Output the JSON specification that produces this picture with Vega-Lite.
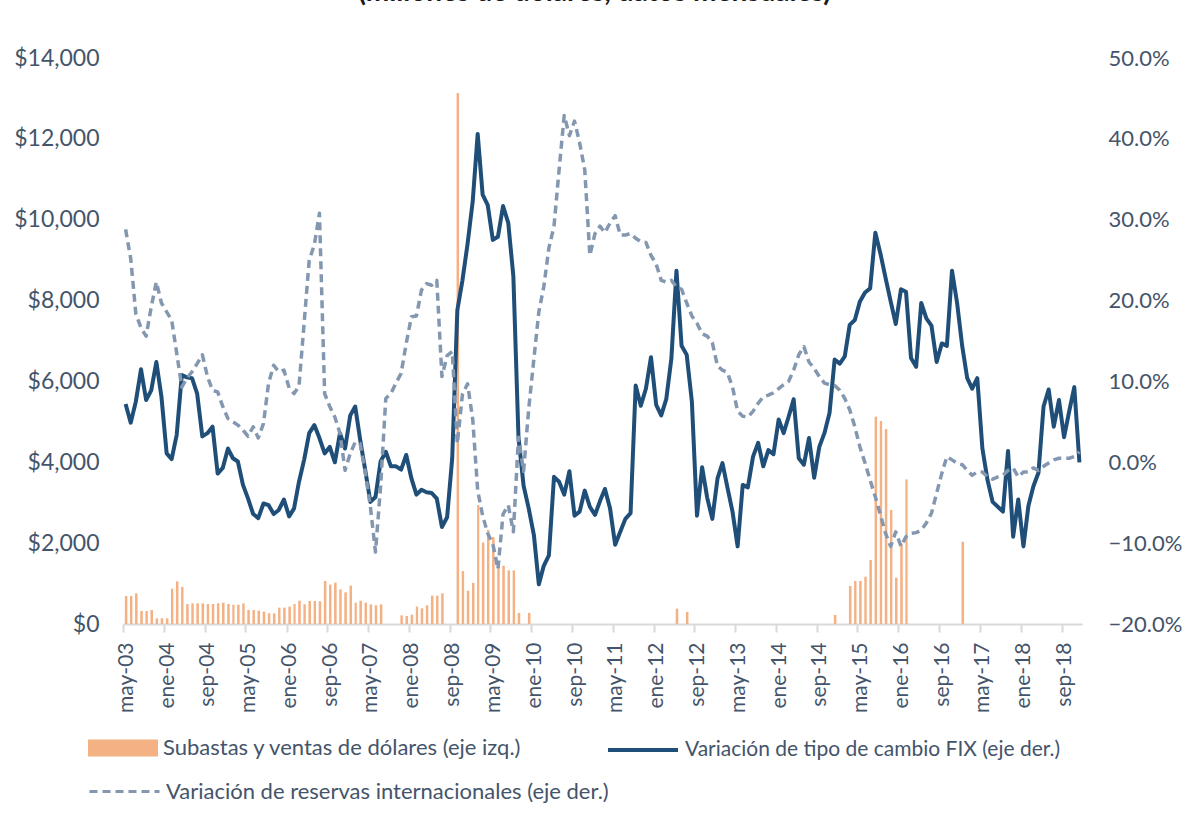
{
  "$schema": "https://vega.github.io/schema/vega-lite/v6.json",
  "autosize": "none",
  "width": 959,
  "height": 566,
  "padding": {"left": 123, "top": 58, "right": 104, "bottom": 195},
  "background": "white",
  "title": {"text": "(millones de dólares, datos mensuales)", "fontSize": 28, "fontWeight": "bold", "font": "Lato", "color": "#1a1a1a", "anchor": "middle", "baseline": "bottom", "offset": 12, "frame": "group", "dx": -8},
  "config": {
    "font": "Lato",
    "view": {"stroke": null},
    "axis": {"labelColor": "#44546A", "labelFont": "Lato", "grid": false, "title": null}
  },
  "data": {"values": [
{"d":"2003-05-01","b":692,"fx":0.072,"r":0.288},
{"d":"2003-06-01","b":692,"fx":0.049,"r":0.252},
{"d":"2003-07-01","b":759,"fx":0.075,"r":0.184},
{"d":"2003-08-01","b":322,"fx":0.115,"r":0.166},
{"d":"2003-09-01","b":322,"fx":0.077,"r":0.156},
{"d":"2003-10-01","b":346,"fx":0.089,"r":0.192},
{"d":"2003-11-01","b":140,"fx":0.124,"r":0.223},
{"d":"2003-12-01","b":140,"fx":0.081,"r":0.197},
{"d":"2004-01-01","b":140,"fx":0.011,"r":0.186},
{"d":"2004-02-01","b":874,"fx":0.004,"r":0.176},
{"d":"2004-03-01","b":1055,"fx":0.034,"r":0.135},
{"d":"2004-04-01","b":915,"fx":0.108,"r":0.093},
{"d":"2004-05-01","b":495,"fx":0.105,"r":0.104},
{"d":"2004-06-01","b":511,"fx":0.104,"r":0.112},
{"d":"2004-07-01","b":511,"fx":0.085,"r":0.122},
{"d":"2004-08-01","b":511,"fx":0.032,"r":0.133},
{"d":"2004-09-01","b":495,"fx":0.036,"r":0.106},
{"d":"2004-10-01","b":495,"fx":0.044,"r":0.089},
{"d":"2004-11-01","b":511,"fx":-0.014,"r":0.087},
{"d":"2004-12-01","b":528,"fx":-0.007,"r":0.069},
{"d":"2005-01-01","b":495,"fx":0.017,"r":0.054},
{"d":"2005-02-01","b":478,"fx":0.005,"r":0.050},
{"d":"2005-03-01","b":478,"fx":0.001,"r":0.046},
{"d":"2005-04-01","b":511,"fx":-0.028,"r":0.040},
{"d":"2005-05-01","b":346,"fx":-0.045,"r":0.032},
{"d":"2005-06-01","b":346,"fx":-0.064,"r":0.044},
{"d":"2005-07-01","b":330,"fx":-0.069,"r":0.030},
{"d":"2005-08-01","b":305,"fx":-0.051,"r":0.048},
{"d":"2005-09-01","b":264,"fx":-0.053,"r":0.098},
{"d":"2005-10-01","b":264,"fx":-0.064,"r":0.120},
{"d":"2005-11-01","b":404,"fx":-0.059,"r":0.112},
{"d":"2005-12-01","b":404,"fx":-0.046,"r":0.114},
{"d":"2006-01-01","b":429,"fx":-0.067,"r":0.092},
{"d":"2006-02-01","b":495,"fx":-0.057,"r":0.085},
{"d":"2006-03-01","b":577,"fx":-0.024,"r":0.094},
{"d":"2006-04-01","b":486,"fx":0.003,"r":0.172},
{"d":"2006-05-01","b":569,"fx":0.036,"r":0.250},
{"d":"2006-06-01","b":569,"fx":0.046,"r":0.269},
{"d":"2006-07-01","b":561,"fx":0.030,"r":0.308},
{"d":"2006-08-01","b":1063,"fx":0.011,"r":0.085},
{"d":"2006-09-01","b":973,"fx":0.019,"r":0.069},
{"d":"2006-10-01","b":1022,"fx":0.000,"r":0.056},
{"d":"2006-11-01","b":857,"fx":0.036,"r":0.036},
{"d":"2006-12-01","b":783,"fx":0.017,"r":-0.010},
{"d":"2007-01-01","b":948,"fx":0.058,"r":0.011},
{"d":"2007-02-01","b":528,"fx":0.069,"r":0.025},
{"d":"2007-03-01","b":577,"fx":0.028,"r":0.023},
{"d":"2007-04-01","b":528,"fx":-0.010,"r":-0.012},
{"d":"2007-05-01","b":486,"fx":-0.049,"r":-0.055},
{"d":"2007-06-01","b":462,"fx":-0.043,"r":-0.111},
{"d":"2007-07-01","b":486,"fx":0.001,"r":-0.030},
{"d":"2007-08-01","b":null,"fx":0.013,"r":0.079},
{"d":"2007-09-01","b":null,"fx":-0.005,"r":0.085},
{"d":"2007-10-01","b":null,"fx":-0.005,"r":0.098},
{"d":"2007-11-01","b":214,"fx":-0.009,"r":0.110},
{"d":"2007-12-01","b":198,"fx":0.009,"r":0.147},
{"d":"2008-01-01","b":231,"fx":-0.020,"r":0.180},
{"d":"2008-02-01","b":429,"fx":-0.040,"r":0.181},
{"d":"2008-03-01","b":387,"fx":-0.034,"r":0.213},
{"d":"2008-04-01","b":462,"fx":-0.037,"r":0.221},
{"d":"2008-05-01","b":701,"fx":-0.038,"r":0.219},
{"d":"2008-06-01","b":701,"fx":-0.045,"r":0.225},
{"d":"2008-07-01","b":759,"fx":-0.080,"r":0.106},
{"d":"2008-08-01","b":null,"fx":-0.068,"r":0.132},
{"d":"2008-09-01","b":null,"fx":0.005,"r":0.137},
{"d":"2008-10-01","b":13134,"fx":0.188,"r":0.023},
{"d":"2008-11-01","b":1311,"fx":0.225,"r":0.084},
{"d":"2008-12-01","b":824,"fx":0.270,"r":0.097},
{"d":"2009-01-01","b":1017,"fx":0.323,"r":0.053},
{"d":"2009-02-01","b":2943,"fx":0.406,"r":-0.035},
{"d":"2009-03-01","b":2016,"fx":0.331,"r":-0.066},
{"d":"2009-04-01","b":2325,"fx":0.318,"r":-0.088},
{"d":"2009-05-01","b":2149,"fx":0.275,"r":-0.101},
{"d":"2009-06-01","b":1425,"fx":0.279,"r":-0.132},
{"d":"2009-07-01","b":1442,"fx":0.317,"r":-0.064},
{"d":"2009-08-01","b":1326,"fx":0.296,"r":-0.053},
{"d":"2009-09-01","b":1326,"fx":0.230,"r":-0.086},
{"d":"2009-10-01","b":275,"fx":0.031,"r":0.031},
{"d":"2009-11-01","b":null,"fx":-0.029,"r":-0.011},
{"d":"2009-12-01","b":275,"fx":-0.057,"r":0.066},
{"d":"2010-01-01","b":null,"fx":-0.090,"r":0.128},
{"d":"2010-02-01","b":null,"fx":-0.151,"r":0.186},
{"d":"2010-03-01","b":null,"fx":-0.128,"r":0.217},
{"d":"2010-04-01","b":null,"fx":-0.115,"r":0.265},
{"d":"2010-05-01","b":null,"fx":-0.018,"r":0.292},
{"d":"2010-06-01","b":null,"fx":-0.024,"r":0.362},
{"d":"2010-07-01","b":null,"fx":-0.040,"r":0.429},
{"d":"2010-08-01","b":null,"fx":-0.011,"r":0.404},
{"d":"2010-09-01","b":null,"fx":-0.066,"r":0.422},
{"d":"2010-10-01","b":null,"fx":-0.061,"r":0.395},
{"d":"2010-11-01","b":null,"fx":-0.035,"r":0.362},
{"d":"2010-12-01","b":null,"fx":-0.055,"r":0.256},
{"d":"2011-01-01","b":null,"fx":-0.065,"r":0.283},
{"d":"2011-02-01","b":null,"fx":-0.048,"r":0.292},
{"d":"2011-03-01","b":null,"fx":-0.033,"r":0.284},
{"d":"2011-04-01","b":null,"fx":-0.057,"r":0.296},
{"d":"2011-05-01","b":null,"fx":-0.102,"r":0.305},
{"d":"2011-06-01","b":null,"fx":-0.086,"r":0.281},
{"d":"2011-07-01","b":null,"fx":-0.070,"r":0.281},
{"d":"2011-08-01","b":null,"fx":-0.063,"r":0.283},
{"d":"2011-09-01","b":null,"fx":0.095,"r":0.277},
{"d":"2011-10-01","b":null,"fx":0.070,"r":0.273},
{"d":"2011-11-01","b":null,"fx":0.091,"r":0.272},
{"d":"2011-12-01","b":null,"fx":0.130,"r":0.256},
{"d":"2012-01-01","b":null,"fx":0.071,"r":0.245},
{"d":"2012-02-01","b":null,"fx":0.058,"r":0.225},
{"d":"2012-03-01","b":null,"fx":0.078,"r":0.223},
{"d":"2012-04-01","b":null,"fx":0.128,"r":0.225},
{"d":"2012-05-01","b":381,"fx":0.237,"r":0.217},
{"d":"2012-06-01","b":null,"fx":0.144,"r":0.214},
{"d":"2012-07-01","b":297,"fx":0.133,"r":0.197},
{"d":"2012-08-01","b":null,"fx":0.075,"r":0.181},
{"d":"2012-09-01","b":null,"fx":-0.066,"r":0.172},
{"d":"2012-10-01","b":null,"fx":-0.006,"r":0.159},
{"d":"2012-11-01","b":null,"fx":-0.044,"r":0.156},
{"d":"2012-12-01","b":null,"fx":-0.070,"r":0.148},
{"d":"2013-01-01","b":null,"fx":-0.020,"r":0.119},
{"d":"2013-02-01","b":null,"fx":-0.001,"r":0.114},
{"d":"2013-03-01","b":null,"fx":-0.031,"r":0.111},
{"d":"2013-04-01","b":null,"fx":-0.061,"r":0.093},
{"d":"2013-05-01","b":null,"fx":-0.104,"r":0.063},
{"d":"2013-06-01","b":null,"fx":-0.028,"r":0.057},
{"d":"2013-07-01","b":null,"fx":-0.031,"r":0.056},
{"d":"2013-08-01","b":null,"fx":0.007,"r":0.063},
{"d":"2013-09-01","b":null,"fx":0.024,"r":0.073},
{"d":"2013-10-01","b":null,"fx":-0.005,"r":0.081},
{"d":"2013-11-01","b":null,"fx":0.015,"r":0.083},
{"d":"2013-12-01","b":null,"fx":0.010,"r":0.086},
{"d":"2014-01-01","b":null,"fx":0.053,"r":0.091},
{"d":"2014-02-01","b":null,"fx":0.036,"r":0.096},
{"d":"2014-03-01","b":null,"fx":0.056,"r":0.100},
{"d":"2014-04-01","b":null,"fx":0.078,"r":0.114},
{"d":"2014-05-01","b":null,"fx":0.005,"r":0.133},
{"d":"2014-06-01","b":null,"fx":-0.003,"r":0.143},
{"d":"2014-07-01","b":null,"fx":0.030,"r":0.124},
{"d":"2014-08-01","b":null,"fx":-0.019,"r":0.116},
{"d":"2014-09-01","b":null,"fx":0.019,"r":0.106},
{"d":"2014-10-01","b":null,"fx":0.036,"r":0.098},
{"d":"2014-11-01","b":null,"fx":0.061,"r":0.096},
{"d":"2014-12-01","b":223,"fx":0.127,"r":0.095},
{"d":"2015-01-01","b":null,"fx":0.122,"r":0.089},
{"d":"2015-02-01","b":null,"fx":0.131,"r":0.079},
{"d":"2015-03-01","b":940,"fx":0.170,"r":0.065},
{"d":"2015-04-01","b":1063,"fx":0.176,"r":0.044},
{"d":"2015-05-01","b":1063,"fx":0.199,"r":0.019},
{"d":"2015-06-01","b":1170,"fx":0.210,"r":-0.001},
{"d":"2015-07-01","b":1583,"fx":0.215,"r":-0.022},
{"d":"2015-08-01","b":5128,"fx":0.284,"r":-0.043},
{"d":"2015-09-01","b":5021,"fx":0.258,"r":-0.065},
{"d":"2015-10-01","b":4823,"fx":0.228,"r":-0.088},
{"d":"2015-11-01","b":2820,"fx":0.199,"r":-0.104},
{"d":"2015-12-01","b":1146,"fx":0.171,"r":-0.086},
{"d":"2016-01-01","b":1995,"fx":0.214,"r":-0.104},
{"d":"2016-02-01","b":3578,"fx":0.211,"r":-0.092},
{"d":"2016-03-01","b":null,"fx":0.129,"r":-0.088},
{"d":"2016-04-01","b":null,"fx":0.118,"r":-0.087},
{"d":"2016-05-01","b":null,"fx":0.197,"r":-0.084},
{"d":"2016-06-01","b":null,"fx":0.178,"r":-0.075},
{"d":"2016-07-01","b":null,"fx":0.169,"r":-0.063},
{"d":"2016-08-01","b":null,"fx":0.124,"r":-0.038},
{"d":"2016-09-01","b":null,"fx":0.147,"r":-0.014},
{"d":"2016-10-01","b":null,"fx":0.144,"r":0.007},
{"d":"2016-11-01","b":null,"fx":0.237,"r":0.003},
{"d":"2016-12-01","b":null,"fx":0.197,"r":-0.001},
{"d":"2017-01-01","b":2036,"fx":0.143,"r":-0.003},
{"d":"2017-02-01","b":null,"fx":0.104,"r":-0.010},
{"d":"2017-03-01","b":null,"fx":0.091,"r":-0.016},
{"d":"2017-04-01","b":null,"fx":0.104,"r":-0.012},
{"d":"2017-05-01","b":null,"fx":0.017,"r":-0.012},
{"d":"2017-06-01","b":null,"fx":-0.022,"r":-0.018},
{"d":"2017-07-01","b":null,"fx":-0.049,"r":-0.021},
{"d":"2017-08-01","b":null,"fx":-0.055,"r":-0.018},
{"d":"2017-09-01","b":null,"fx":-0.061,"r":-0.016},
{"d":"2017-10-01","b":null,"fx":0.014,"r":-0.010},
{"d":"2017-11-01","b":null,"fx":-0.092,"r":-0.007},
{"d":"2017-12-01","b":null,"fx":-0.046,"r":-0.018},
{"d":"2018-01-01","b":null,"fx":-0.104,"r":-0.012},
{"d":"2018-02-01","b":null,"fx":-0.054,"r":-0.012},
{"d":"2018-03-01","b":null,"fx":-0.030,"r":-0.007},
{"d":"2018-04-01","b":null,"fx":-0.013,"r":-0.010},
{"d":"2018-05-01","b":null,"fx":0.069,"r":-0.005},
{"d":"2018-06-01","b":null,"fx":0.090,"r":-0.001},
{"d":"2018-07-01","b":null,"fx":0.044,"r":0.003},
{"d":"2018-08-01","b":null,"fx":0.077,"r":0.005},
{"d":"2018-09-01","b":null,"fx":0.031,"r":0.005},
{"d":"2018-10-01","b":null,"fx":0.063,"r":0.005},
{"d":"2018-11-01","b":null,"fx":0.093,"r":0.007},
{"d":"2018-12-01","b":null,"fx":0.000,"r":0.013}
  ]},
  "layer": [
    {
      "mark": {"type": "bar", "width": {"band": 0.68}},
      "encoding": {
        "x": {
          "field": "d", "timeUnit": "utcyearmonth", "type": "temporal", "title": null,
          "scale": {"domain": [{"year": 2003, "month": 5, "date": 1, "utc": true}, {"year": 2019, "month": 1, "date": 1, "utc": true}], "nice": false},
          "axis": {
            "values": [
              {"year": 2003, "month": 5, "date": 1, "utc": true},
              {"year": 2004, "month": 1, "date": 1, "utc": true},
              {"year": 2004, "month": 9, "date": 1, "utc": true},
              {"year": 2005, "month": 5, "date": 1, "utc": true},
              {"year": 2006, "month": 1, "date": 1, "utc": true},
              {"year": 2006, "month": 9, "date": 1, "utc": true},
              {"year": 2007, "month": 5, "date": 1, "utc": true},
              {"year": 2008, "month": 1, "date": 1, "utc": true},
              {"year": 2008, "month": 9, "date": 1, "utc": true},
              {"year": 2009, "month": 5, "date": 1, "utc": true},
              {"year": 2010, "month": 1, "date": 1, "utc": true},
              {"year": 2010, "month": 9, "date": 1, "utc": true},
              {"year": 2011, "month": 5, "date": 1, "utc": true},
              {"year": 2012, "month": 1, "date": 1, "utc": true},
              {"year": 2012, "month": 9, "date": 1, "utc": true},
              {"year": 2013, "month": 5, "date": 1, "utc": true},
              {"year": 2014, "month": 1, "date": 1, "utc": true},
              {"year": 2014, "month": 9, "date": 1, "utc": true},
              {"year": 2015, "month": 5, "date": 1, "utc": true},
              {"year": 2016, "month": 1, "date": 1, "utc": true},
              {"year": 2016, "month": 9, "date": 1, "utc": true},
              {"year": 2017, "month": 5, "date": 1, "utc": true},
              {"year": 2018, "month": 1, "date": 1, "utc": true},
              {"year": 2018, "month": 9, "date": 1, "utc": true}
            ],
            "labelExpr": "['ene','feb','mar','abr','may','jun','jul','ago','sep','oct','nov','dic'][utcmonth(datum.value)] + '-' + utcFormat(datum.value, '%y')",
            "labelAngle": 270,
            "labelFontSize": 21,
            "labelPadding": 10,
            "labelOffset": 3,
            "labelOverlap": false,
            "labelFlush": false,
            "labelBound": false,
            "domainColor": "#D9D9D9",
            "domainWidth": 2,
            "tickColor": "#D9D9D9",
            "tickWidth": 2,
            "tickSize": 8
          }
        },
        "y": {
          "field": "b", "type": "quantitative",
          "scale": {"domain": [0, 14000], "nice": false},
          "axis": {"orient": "left", "values": [0, 2000, 4000, 6000, 8000, 10000, 12000, 14000], "format": "$,.0f", "domain": false, "ticks": false, "labelPadding": 24, "labelFontSize": 23}
        },
        "fill": {
          "datum": "Subastas y ventas de dólares (eje izq.)",
          "scale": {"range": ["#F4B183"]},
          "legend": {"orient": "none", "legendX": -35, "legendY": 655, "title": null, "symbolType": "M-1,-0.24H1V0.24H-1Z", "symbolSize": 4900, "symbolStrokeWidth": 0, "labelFontSize": 22, "labelFont": "Lato", "labelColor": "#44546A", "labelOffset": 5, "labelLimit": 0}
        }
      }
    },
    {
      "layer": [
        {
          "mark": {"type": "line", "strokeWidth": 4, "strokeJoin": "round"},
          "encoding": {
            "x": {"field": "d", "timeUnit": "utcyearmonth", "type": "temporal", "bandPosition": 0.5},
            "y": {
              "field": "fx", "type": "quantitative",
              "scale": {"domain": [-0.2, 0.5], "nice": false},
              "axis": {"orient": "right", "values": [-0.2, -0.1, 0, 0.1, 0.2, 0.3, 0.4, 0.5], "format": ".1%", "domain": false, "ticks": false, "labelPadding": 26, "labelFontSize": 22}
            },
            "stroke": {
              "datum": "Variación de tipo de cambio FIX (eje der.)",
              "scale": {"range": ["#1F4E79"]},
              "legend": {"orient": "none", "legendX": 483, "legendY": 655, "title": null, "symbolType": "stroke", "symbolSize": 4900, "symbolStrokeWidth": 4, "labelFontSize": 21, "labelFont": "Lato", "labelColor": "#44546A", "labelOffset": 5, "labelLimit": 0}
            }
          }
        },
        {
          "mark": {"type": "line", "strokeWidth": 3.5, "stroke": "#8497B0", "strokeJoin": "round"},
          "encoding": {
            "x": {"field": "d", "timeUnit": "utcyearmonth", "type": "temporal", "bandPosition": 0.5},
            "y": {
              "field": "r", "type": "quantitative",
              "axis": {"orient": "right", "values": [-0.2, -0.1, 0, 0.1, 0.2, 0.3, 0.4, 0.5], "format": ".1%", "domain": false, "ticks": false, "labelPadding": 26, "labelFontSize": 22}
            },
            "strokeDash": {
              "datum": "Variación de reservas internacionales (eje der.)",
              "scale": {"range": [[8, 5]]},
              "legend": {"orient": "none", "legendX": -35, "legendY": 697, "title": null, "symbolType": "stroke", "symbolSize": 4900, "symbolStrokeWidth": 3, "symbolStrokeColor": "#8497B0", "labelFontSize": 22, "labelFont": "Lato", "labelColor": "#44546A", "labelOffset": 5, "labelLimit": 0}
            }
          }
        }
      ]
    }
  ],
  "resolve": {"scale": {"y": "independent"}}
}
